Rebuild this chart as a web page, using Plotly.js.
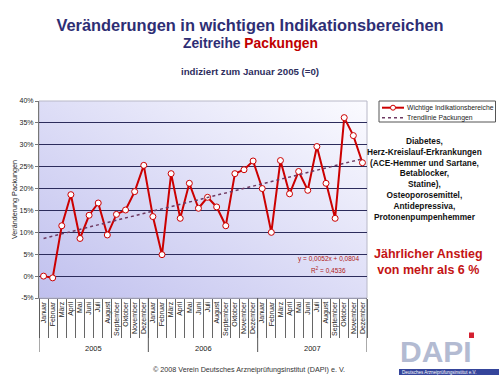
<!DOCTYPE html>
<html>
<head>
<meta charset="utf-8">
<script src="https://cdn.plot.ly/plotly-3.0.1.min.js"></script>
<style>html,body{margin:0;padding:0;background:#fff;}#chart{width:500px;height:375px;}</style>
</head>
<body>
<div id="chart"></div>
<script>
// ---- data ----
const months = ['Januar','Februar','März','April','Mai','Juni','Juli','August','September','Oktober','November','Dezember'];
const years = ['2005','2006','2007'];
// monthly change in packages, % vs. January 2005
const values2005 = [0, -0.4, 11.5, 18.6, 8.6, 13.9, 16.7, 9.4, 14.1, 15.1, 19.3, 25.3];
const values2006 = [13.6, 4.9, 23.4, 13.2, 21.2, 15.5, 18.0, 15.8, 11.5, 23.4, 24.3, 26.3];
const values2007 = [20.0, 10.0, 26.4, 18.8, 23.9, 19.6, 29.6, 21.2, 13.2, 36.2, 32.1, 25.9];
// trend line end values (Jan 2005, Dez 2007)
const trendValues = [8.6, 26.8];
const yTickValues = [-5, 0, 5, 10, 15, 20, 25, 30, 35, 40];
const yTickLabels = ['-5%', '0%', '5%', '10%', '15%', '20%', '25%', '30%', '35%', '40%'];
const seriesName = 'Wichtige Indikationsbereiche';
const trendName = 'Trendlinie Packungen';
const indications = ['Diabetes,', 'Herz-Kreislauf-Erkrankungen', '(ACE-Hemmer und Sartane,', 'Betablocker,', 'Statine),', 'Osteoporosemittel,', 'Antidepressiva,', 'Protonenpumpenhemmer'];

// ---- build ----
const values = values2005.concat(values2006, values2007);
const idx = values.map((v, i) => i);
const monthLabels = [];
years.forEach(() => months.forEach(m => monthLabels.push(m)));
const n = values.length;
const trendX = [0, n - 1];
const boundaries = [];
for (let i = 0; i <= n; i++) boundaries.push(i - 0.5);
const yearBounds = [];
for (let k = 0; k <= years.length; k++) yearBounds.push(k * 12 - 0.5);

// pixel -> paper helpers (plot area 39..367 x 101..298)
const L = 39, R = 367, T = 101, B = 298;
const px = v => (v - L) / (R - L);
const py = v => (B - v) / (B - T);

const FONT = 'Liberation Sans, Arial, sans-serif';
const RED = '#cc0000';
const TREND = '#6e3a62';

const traces = [
  {x: idx, y: values, type: 'scatter', mode: 'lines+markers', name: seriesName,
   line: {color: RED, width: 2},
   marker: {symbol: 'circle', size: 6, color: '#ffffff', line: {color: RED, width: 1}},
   cliponaxis: false},
  {x: trendX, y: trendValues, xaxis: 'x2', type: 'scatter', mode: 'lines', name: trendName,
   line: {color: TREND, width: 1.5, dash: 'dot'}}
];

const svg = "<svg xmlns='http://www.w3.org/2000/svg' width='100' height='100' preserveAspectRatio='none'>" +
  "<defs><linearGradient id='g' x1='0' y1='1' x2='1' y2='0'>" +
  "<stop offset='0' stop-color='#c0c0ee'/><stop offset='1' stop-color='#fbfbff'/></linearGradient></defs>" +
  "<rect width='100' height='100' fill='url(#g)'/></svg>";
const bgSrc = 'data:image/svg+xml;charset=utf-8,' + encodeURIComponent(svg);

const shapes = [];
// plot border
shapes.push({type: 'rect', xref: 'paper', yref: 'paper', x0: 0, x1: 1, y0: 0, y1: 1, line: {color: '#b8b8c8', width: 1}, layer: 'below'});
// year separators
yearBounds.forEach(b => shapes.push({type: 'line', xref: 'x', yref: 'paper', x0: b, x1: b, y0: 0, y1: py(352), line: {color: '#555', width: 1}}));
// manual legend
shapes.push({type: 'rect', xref: 'paper', yref: 'paper', x0: px(379), x1: px(495.5), y0: py(122), y1: py(101), line: {color: '#555', width: 1}, fillcolor: '#ffffff'});
shapes.push({type: 'line', xref: 'paper', yref: 'paper', x0: px(382), x1: px(404), y0: py(107.7), y1: py(107.7), line: {color: RED, width: 2}});
shapes.push({type: 'circle', xref: 'paper', yref: 'paper', x0: px(390.5), x1: px(395.5), y0: py(110.2), y1: py(105.2), line: {color: RED, width: 1}, fillcolor: '#ffffff'});
shapes.push({type: 'line', xref: 'paper', yref: 'paper', x0: px(382), x1: px(404), y0: py(117.7), y1: py(117.7), line: {color: TREND, width: 1.5, dash: 'dot'}});
// DAPI logo pieces
shapes.push({type: 'rect', xref: 'paper', yref: 'paper', x0: px(469), x1: px(474), y0: py(338), y1: py(332.5), line: {width: 0}, fillcolor: '#d42030'});
shapes.push({type: 'rect', xref: 'paper', yref: 'paper', x0: px(399), x1: px(499), y0: py(375), y1: py(369), line: {width: 0}, fillcolor: '#35459b'});

function ann(x, y, text, size, color, extra) {
  return Object.assign({xref: 'paper', yref: 'paper', x: x, y: y, text: text, showarrow: false,
    xanchor: 'center', yanchor: 'middle', font: {family: FONT, size: size, color: color}}, extra || {});
}

const annotations = [];
annotations.push(ann(px(250), py(43), '<b>Zeitreihe <span style="color:#c00000">Packungen</span></b>', 13.8, '#2e2e74'));
annotations.push(ann(px(250), py(71), '<b>indiziert zum Januar 2005 (=0)</b>', 9.7, '#2e2e5e'));
annotations.push(ann(px(424), py(178.5), '<b>' + indications.join('<br>') + '</b>', 8.3, '#111111', {align: 'center'}));
annotations.push(ann(px(428), py(261.5), '<b>Jährlicher Anstieg<br>von mehr als 6 %</b>', 12.5, '#c41414', {align: 'center'}));
annotations.push(ann(px(328), py(259), 'y = 0,0052x + 0,0804', 6.5, '#b02020'));
annotations.push(ann(px(328), py(270), 'R<sup>2</sup> = 0,4536', 6.5, '#b02020'));
annotations.push(ann(px(249), py(369.5), '© 2008 Verein Deutsches Arzneiprüfungsinstitut (DAPI) e. V.', 7.2, '#333333'));
// legend texts
annotations.push(ann(px(405), py(107.7), seriesName, 6.8, '#222', {xanchor: 'left'}));
annotations.push(ann(px(405), py(117.7), trendName, 6.8, '#222', {xanchor: 'left'}));
// year labels
years.forEach((yr, k) => annotations.push(ann(k * 12 + 5.5, py(348), yr, 7.5, '#222', {xref: 'x'})));
// logo text
annotations.push(ann(px(436), py(351.5), '<b>DAPI</b>', 30, '#b3bbd2'));
annotations.push(ann(px(401), py(372), 'Deutsches Arzneiprüfungsinstitut e.V.', 4.5, '#ffffff', {xanchor: 'left', borderpad: 0}));

const layout = {
  width: 500, height: 375,
  margin: {l: L, r: 500 - R, t: T, b: 375 - B},
  paper_bgcolor: '#ffffff',
  plot_bgcolor: 'rgba(0,0,0,0)',
  showlegend: false,
  font: {family: FONT, color: '#222'},
  title: {text: '<b>Veränderungen in wichtigen Indikationsbereichen</b>', xref: 'container', yref: 'container', x: 0.5, xanchor: 'center', y: 1 - 25 / 375, yanchor: 'middle', font: {family: FONT, size: 16.4, color: '#2e2e74'}},
  xaxis: {range: [-0.5, n - 0.5], tickmode: 'array', tickvals: idx, ticktext: monthLabels, tickangle: -90,
          ticks: '', showgrid: false, zeroline: false, showline: true, linecolor: '#9a9ab0', linewidth: 1,
          tickfont: {family: FONT, size: 7, color: '#222'}, fixedrange: true},
  xaxis2: {overlaying: 'x', anchor: 'y', side: 'bottom', range: [-0.5, n - 0.5], tickmode: 'array', tickvals: boundaries,
           showticklabels: false, ticks: 'outside', ticklen: 39, tickcolor: '#666', tickwidth: 1,
           showgrid: false, zeroline: false, showline: false},
  yaxis: {range: [-5, 40], tickmode: 'array', tickvals: yTickValues, ticktext: yTickLabels,
          showgrid: true, gridcolor: '#2c2c5c', gridwidth: 1.2, zeroline: false,
          showline: true, linecolor: '#777', linewidth: 1, ticks: 'outside', ticklen: 3, tickcolor: '#777',
          tickfont: {family: FONT, size: 7, color: '#222'},
          title: {text: 'Veränderung Packungen', standoff: 1, font: {family: FONT, size: 7.2, color: '#222'}}},
  images: [{source: bgSrc, xref: 'paper', yref: 'paper', x: 0, y: 1, sizex: 1, sizey: 1, xanchor: 'left', yanchor: 'top', sizing: 'stretch', layer: 'below'}],
  shapes: shapes,
  annotations: annotations
};

Plotly.newPlot('chart', traces, layout, {staticPlot: true, displayModeBar: false});
</script>
</body>
</html>
